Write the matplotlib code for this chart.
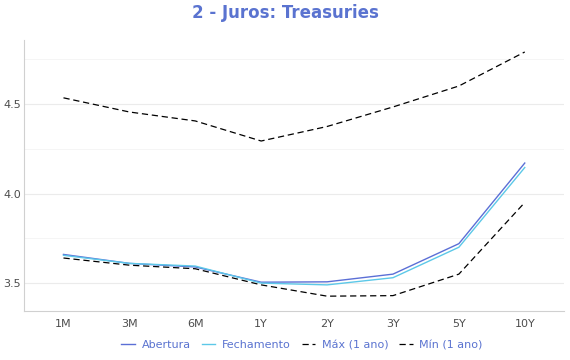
import matplotlib.pyplot as plt
import numpy as np

# vertices (maturities) and yields
vertices = ['1M', '3M', '6M', '1Y', '2Y', '3Y', '5Y', '10Y']
abertura = [3.66, 3.61, 3.59, 3.505, 3.507, 3.55, 3.72, 4.17]
fechamento = [3.655, 3.61, 3.595, 3.50, 3.49, 3.53, 3.70, 4.145]
maximo = [4.534, 4.455, 4.405, 4.293, 4.374, 4.483, 4.60, 4.79]
minimo = [3.64, 3.60, 3.58, 3.49, 3.427, 3.43, 3.55, 3.95]

fig = plt.figure(figsize=(5.7, 3.6), dpi=100)
ax = fig.add_axes([0.042, 0.136, 0.948, 0.753])

x = np.arange(len(vertices))
ax.plot(x, abertura, color='#5b6fd6', lw=1, label='Abertura')
ax.plot(x, fechamento, color='#5cc8e8', lw=1, label='Fechamento')
ax.plot(x, maximo, color='black', lw=0.9, dashes=(5, 3), label='Máx (1 ano)')
ax.plot(x, minimo, color='black', lw=0.9, dashes=(5, 3), label='Mín (1 ano)')

ax.set_xlim(-0.6, 7.6)
ax.set_ylim(3.344, 4.857)
ax.set_xticks(x)
ax.set_xticklabels(vertices)
ax.set_yticks([3.5, 4.0, 4.5])
ax.set_yticks([3.75, 4.25, 4.75], minor=True)
ax.tick_params(axis='x', length=0, labelsize=8, colors='#4d4d4d', pad=6)
ax.tick_params(axis='y', length=0, labelsize=8, colors='#4d4d4d', pad=2)
ax.tick_params(axis='y', which='minor', length=0)
ax.grid(axis='y', which='major', color='#ebebeb', lw=0.8)
ax.grid(axis='y', which='minor', color='#f4f4f4', lw=0.6)
ax.set_axisbelow(True)

for s in ['top', 'right']:
    ax.spines[s].set_visible(False)
for s in ['left', 'bottom']:
    ax.spines[s].set_color('#d0d0d0')

fig.suptitle('2 - Juros: Treasuries', x=0.5, y=0.99, fontsize=12,
             fontweight='bold', color='#5a73d0')

leg = fig.legend(loc='lower center', ncol=4, bbox_to_anchor=(0.53, 0.0),
                 frameon=False, fontsize=8, handlelength=1.2,
                 handletextpad=0.6, columnspacing=1.0)
for t in leg.get_texts():
    t.set_color('#5a73d0')

fig.savefig('out.png', dpi=100)
